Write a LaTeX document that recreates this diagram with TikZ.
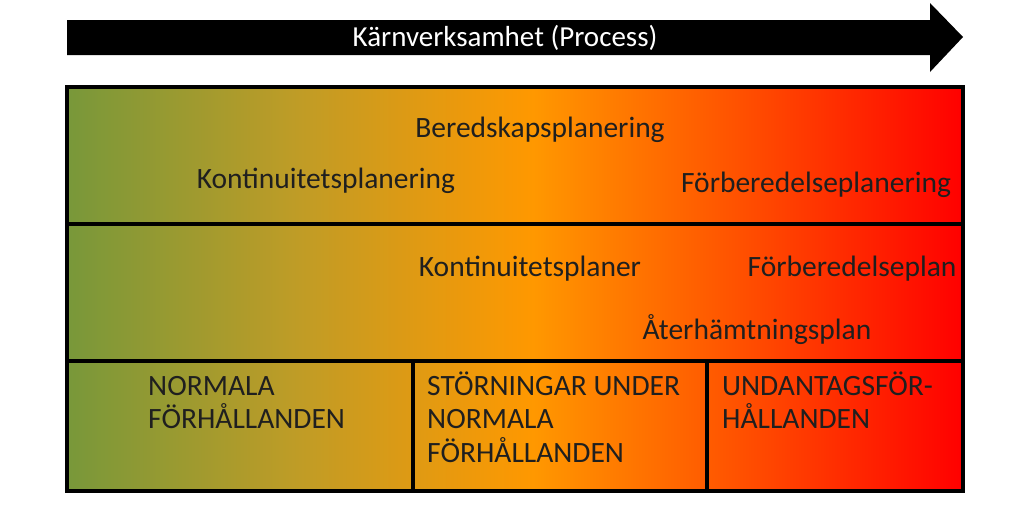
\documentclass[tikz,border=0pt]{standalone}
\usepackage{fontspec}
\setmainfont{Carlito}
\usetikzlibrary{positioning}
\definecolor{zonegreen}{RGB}{120,152,58}
\definecolor{zoneolive}{RGB}{192,156,38}
\definecolor{zoneorange}{RGB}{255,152,0}
\definecolor{zonedeep}{RGB}{255,84,0}
\definecolor{zonered}{RGB}{255,0,0}
\pgfdeclarehorizontalshading{zones}{100bp}{color(0bp)=(zonegreen); color(25bp)=(zonegreen); color(38bp)=(zoneolive); color(51bp)=(zoneorange); color(62bp)=(zonedeep); color(75bp)=(zonered); color(100bp)=(zonered)}

\begin{document}
\begin{tikzpicture}[x=1pt, y=-1pt,
  every node/.style={font=\fontsize{29.5}{33.5}\selectfont, text=black!88},
  plan/.style={anchor=base, inner sep=0pt},
  zone/.style={anchor=base west, align=left, inner sep=0pt},
  frame/.style={draw=black, line width=3.2pt}
]
\useasboundingbox (0,0) rectangle (1024,517);

% Process arrow
\fill[black] (67,20) -- (930,20) -- (930,3) -- (963,37) -- (930,72) -- (930,55) -- (67,55) -- cycle;
\node[text=white, font=\fontsize{29}{30}\selectfont] (process) at (505,38) {Kärnverksamhet (Process)};

% Graded background
\shade[shading=zones] (67,87) rectangle (963,491);

% Frame and rows
\draw[frame] (67,87) rectangle (963,491);
\draw[frame] (67,224) -- (963,224);
\draw[frame] (67,361) -- (963,361);
\draw[frame] (413,361) -- (413,491);
\draw[frame] (707,361) -- (707,491);

% Planning row
\node[plan] (bered) at (540,137) {Beredskapsplanering};
\node[plan] (kontplan) at (326,188) {Kontinuitetsplanering};
\node[plan] (forbplan) at (816,192) {Förberedelseplanering};

% Plans row
\node[plan] (kont) at (530,276) {Kontinuitetsplaner};
\node[plan] (forb) at (852,276) {Förberedelseplan};
\node[plan] (ater) at (757,339) {Återhämtningsplan};

% Conditions row (anchored at the last baseline)
\node[zone] (normal) at (148,428.5) {NORMALA\\FÖRHÅLLANDEN};
\node[zone] (storning) at (427,462) {STÖRNINGAR UNDER\\NORMALA\\FÖRHÅLLANDEN};
\node[zone] (undantag) at (722,428.5) {UNDANTAGSFÖR-\\HÅLLANDEN};

\end{tikzpicture}
\end{document}
